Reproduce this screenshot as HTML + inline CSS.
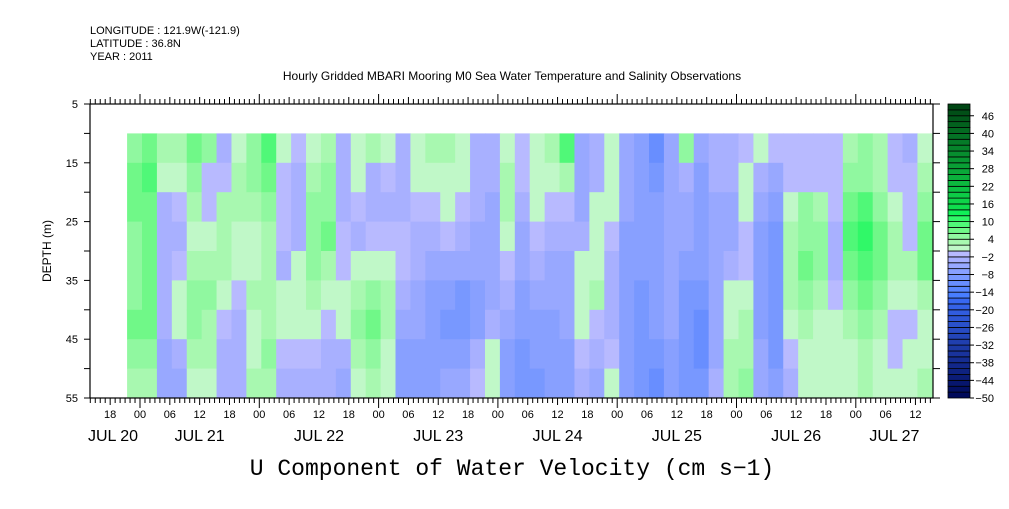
<!DOCTYPE html>
<html><head><meta charset="utf-8"><style>
body{margin:0;background:#fff;width:1009px;height:504px;overflow:hidden}
svg text{font-family:"Liberation Sans",sans-serif;fill:#000}
</style></head><body>
<svg id="c" width="1009" height="504" xmlns="http://www.w3.org/2000/svg">
<text x="90" y="34" font-size="11">LONGITUDE : 121.9W(-121.9)</text>
<text x="90" y="47" font-size="11">LATITUDE : 36.8N</text>
<text x="90" y="60" font-size="11">YEAR : 2011</text>
<text x="512" y="80" font-size="12" text-anchor="middle">Hourly Gridded MBARI Mooring M0 Sea Water Temperature and Salinity Observations</text>
<text x="0" y="0" font-size="12" text-anchor="middle" transform="translate(51,251) rotate(-90)">DEPTH (m)</text>
<text x="512" y="475" font-size="23" text-anchor="middle" font-family="Liberation Mono, monospace" style="font-family:'Liberation Mono',monospace">U Component of Water Velocity (cm s−1)</text>
<g id="cells"></g>
<g id="axes"></g>
<g id="cbar"></g>
</svg>
<script>
// data: 3-hourly columns starting JUL 20 21:00, depth rows 10-15 ... 50-55 m
const depthEdges=[10,15,20,25,30,35,40,45,50,55];
const startHour=-3; // hours relative to JUL 21 00:00
const stepHours=3;
const uValues=[
[6,8,8,6,6,6,8,6,4],[8,10,8,8,8,8,8,6,4],[4,2,-4,-4,-4,-4,-4,-6,-6],[4,2,-2,-4,-2,2,2,-4,-6],
[8,6,4,2,4,6,6,4,2],[6,-2,-2,2,4,6,4,4,2],[-4,-2,4,4,4,2,-2,-4,-4],[2,4,4,2,2,-2,-4,-4,-4],
[6,6,4,2,2,4,2,2,4],[10,8,6,4,4,4,4,6,4],[2,-2,-2,-2,-4,2,2,-2,-4],[-2,-4,-4,-4,2,2,2,-2,-4],
[2,4,6,6,6,4,2,-2,-4],[4,6,6,8,4,2,-2,-4,-4],[-4,-4,-4,-2,-2,2,2,-4,-6],[2,2,-2,-4,2,4,6,4,2],
[4,-4,-4,-2,2,6,8,6,4],[2,-2,-4,-2,2,4,4,2,2],[-4,-4,-4,-2,-2,-4,-6,-8,-8],[2,2,-2,-4,-4,-6,-6,-8,-8],
[4,2,-2,-4,-6,-8,-8,-8,-8],[4,2,2,-2,-6,-8,-10,-8,-6],[2,2,-2,-4,-6,-10,-10,-8,-6],[-4,-4,-4,-6,-6,-8,-8,-4,-2],
[-4,-4,-6,-6,-6,-6,-4,2,2],[2,4,4,2,-2,-4,-6,-8,-8],[-2,-2,-4,-6,-6,-8,-8,-10,-10],[2,2,2,-2,-4,-6,-8,-8,-10],
[4,2,-2,-4,-6,-6,-8,-8,-8],[10,4,-2,-4,-6,-6,-6,-8,-8],[-6,-6,-6,-4,2,2,2,-2,-4],[-4,-4,2,2,2,4,-2,-4,-6],
[2,2,2,-2,-4,-4,-4,-2,2],[-6,-6,-6,-8,-8,-8,-8,-8,-8],[-8,-8,-8,-8,-8,-10,-10,-10,-10],[-12,-10,-8,-8,-8,-8,-8,-10,-12],
[-6,-6,-6,-6,-6,-6,-6,-8,-8],[6,-4,-6,-6,-8,-10,-10,-10,-10],[-6,-8,-8,-8,-8,-10,-12,-12,-10],[-4,-4,-6,-6,-6,-6,-6,-6,-4],
[-4,-4,-6,-6,-4,2,2,4,4],[-2,2,2,-2,-2,2,4,4,6],[2,-4,-6,-8,-8,-8,-8,-6,-6],[-2,-6,-8,-10,-10,-10,-10,-10,-8],
[-2,-2,2,4,4,4,2,-2,-4],[-2,-2,6,6,8,6,4,2,2],[-2,-2,4,6,6,4,2,2,2],[-2,-2,-2,-4,-4,-2,2,2,2],
[4,6,8,10,8,6,4,2,2],[6,6,10,12,10,8,6,4,4],[4,4,6,8,8,6,4,2,2],[-2,-2,2,4,4,2,-2,-2,2],
[-4,-2,-2,-2,4,2,-2,2,2],[2,4,6,8,8,4,2,2,4]];
const yTickLabels=[5,15,25,35,45,55];
const hourLabels=["18","00","06","12"];
const dayLabels=["JUL 20","JUL 21","JUL 22","JUL 23","JUL 24","JUL 25","JUL 26","JUL 27"];
const cbarLabels=[46,40,34,28,22,16,10,4,-2,-8,-14,-20,-26,-32,-38,-44,-50];

const NS="http://www.w3.org/2000/svg";
const X0=90,X1=933,Y0=104,Y1=398;
const hMin=-10,hMax=(X1-140)/119.3*24;
const xs=h=>140+h*119.3/24;
const ys=d=>Y0+(d-5)*(Y1-Y0)/50;
function mk(tag,at,parent){const e=document.createElementNS(NS,tag);for(const k in at)e.setAttribute(k,at[k]);parent.appendChild(e);return e;}
function lerp(a,b,t){return a.map((v,i)=>Math.round(v+(b[i]-v)*t));}
function colorFor(v){
  // band index from value
  if(v>=0){const k=Math.min(24,Math.max(0,Math.ceil(v/2)-1));
    const pal=[[192,248,200],[168,248,176],[144,248,160],[112,248,136],[80,248,120],[48,248,104],[16,240,88]];
    if(k<pal.length)return "rgb("+pal[k]+")";
    return "rgb("+lerp([16,230,80],[0,70,20],(k-6)/18)+")";}
  const k=Math.min(24,Math.max(0,Math.ceil(-v/2)-1));
  const pal=[[184,186,255],[168,176,255],[152,168,255],[136,160,255],[120,152,255],[104,142,255],[88,134,255],[72,126,255]];
  if(k<pal.length)return "rgb("+pal[k]+")";
  return "rgb("+lerp([60,110,250],[0,10,90],(k-7)/17)+")";
}
const cells=document.getElementById('cells');
uValues.forEach((col,i)=>{
  const h0=startHour+i*stepHours,h1=h0+stepHours;
  const x0=Math.max(xs(h0)+2,X0),x1=Math.min(xs(h1)+2,X1);
  col.forEach((v,r)=>{
    const y0=ys(depthEdges[r]),y1=ys(depthEdges[r+1]);
    const el=mk('rect',{x:x0.toFixed(2),y:y0.toFixed(2),width:(x1-x0+0.5).toFixed(2),height:(y1-y0+0.5).toFixed(2),fill:colorFor(v)},cells);
    
    
  });
});
const ax=document.getElementById('axes');
const bx=mk('rect',{x:X0,y:Y0,width:X1-X0,height:Y1-Y0,fill:'none',stroke:'#000','stroke-width':1.2},ax);


// x ticks hourly
for(let h=Math.ceil(hMin);h<=hMax;h++){
  const x=xs(h);const day=((h%24)+24)%24===0;const six=((h%6)+6)%6===0;
  const len=day?10:(six?7:5);
  mk('line',{x1:x,x2:x,y1:Y1,y2:Y1+len,stroke:'#000'},ax);
  mk('line',{x1:x,x2:x,y1:Y0,y2:Y0-len,stroke:'#000'},ax);
  if(six){const lab=hourLabels[(((h/6)%4)+4+1)%4];
    const t=mk('text',{x:x,y:418,'font-size':11,'text-anchor':'middle'},ax);t.textContent=lab;
    
    }
}
dayLabels.forEach((d,i)=>{
  let a=Math.max(hMin,(i-1)*24),b=Math.min(hMax,i*24);
  const cx=i===0?113:(xs(a)+xs(b))/2;
  const t=mk('text',{x:cx,y:441,'font-size':16,'text-anchor':'middle'},ax);t.textContent=d;
  
  
});
for(let d=5;d<=55;d+=5){const y=ys(d);
  mk('line',{x1:X0-6,x2:X0,y1:y,y2:y,stroke:'#000'},ax);
  mk('line',{x1:X1,x2:X1+7,y1:y,y2:y,stroke:'#000'},ax);}
yTickLabels.forEach(d=>{const t=mk('text',{x:X0-12,y:ys(d)+4,'font-size':11,'text-anchor':'end'},ax);t.textContent=d;
  
  });
// colorbar
const cb=document.getElementById('cbar');
const CX=948,CW=22,cy=v=>Y0+(50-v)*(Y1-Y0)/100;
for(let v=-50;v<50;v+=2){
  const r=mk('rect',{x:CX,y:cy(v+2),width:CW,height:cy(v)-cy(v+2),fill:colorFor(v+1),stroke:'#000','stroke-width':0.8},cb);
  
  
}
cbarLabels.forEach(v=>{
  mk('line',{x1:CX+CW,x2:CX+CW+4,y1:cy(v),y2:cy(v),stroke:'#000'},cb);
  const t=mk('text',{x:CX+CW+24,y:cy(v)+4,'font-size':11,'text-anchor':'end'},cb);t.textContent=v<0?"−"+(-v):v;
  
  
});
</script>
</body></html>
